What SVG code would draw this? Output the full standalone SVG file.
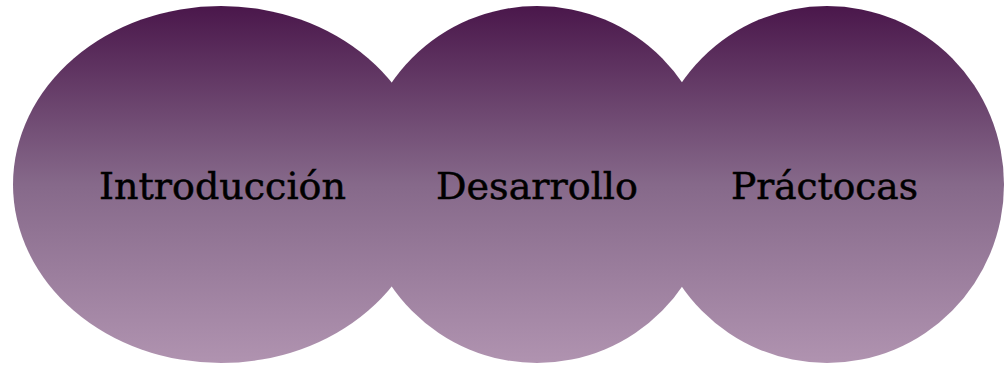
<svg xmlns="http://www.w3.org/2000/svg" width="1005" height="366" viewBox="0 0 1005 366">
<defs>
<linearGradient id="g" x1="0" y1="0" x2="0" y2="1">
<stop offset="0" stop-color="#4a174b"/>
<stop offset="0.5" stop-color="#86698a"/>
<stop offset="1" stop-color="#b093b0"/>
</linearGradient>
</defs>
<style>
.s{fill:url(#g);stroke:none}
.t{font-family:"DejaVu Serif","Liberation Serif",serif;font-size:38px;fill:#000;stroke:#000;stroke-width:0.5;text-anchor:middle}
</style>
<rect width="1005" height="366" fill="#fff"/>
<g id="n1"><ellipse class="s" cx="221" cy="184.5" rx="208" ry="178.5"/></g>
<g id="n2"><ellipse class="s" cx="537" cy="184.5" rx="177" ry="178.5"/></g>
<g id="n3"><ellipse class="s" cx="827" cy="184.5" rx="177" ry="178.5"/></g>
<g id="connectors"></g>
<g id="labels">
<text class="t" x="222.5" y="199" textLength="247" lengthAdjust="spacingAndGlyphs">Introducción</text>
<text class="t" x="537" y="199" textLength="202" lengthAdjust="spacingAndGlyphs">Desarrollo</text>
<text class="t" x="824.5" y="199" textLength="187" lengthAdjust="spacingAndGlyphs">Práctocas</text>
</g>
</svg>
